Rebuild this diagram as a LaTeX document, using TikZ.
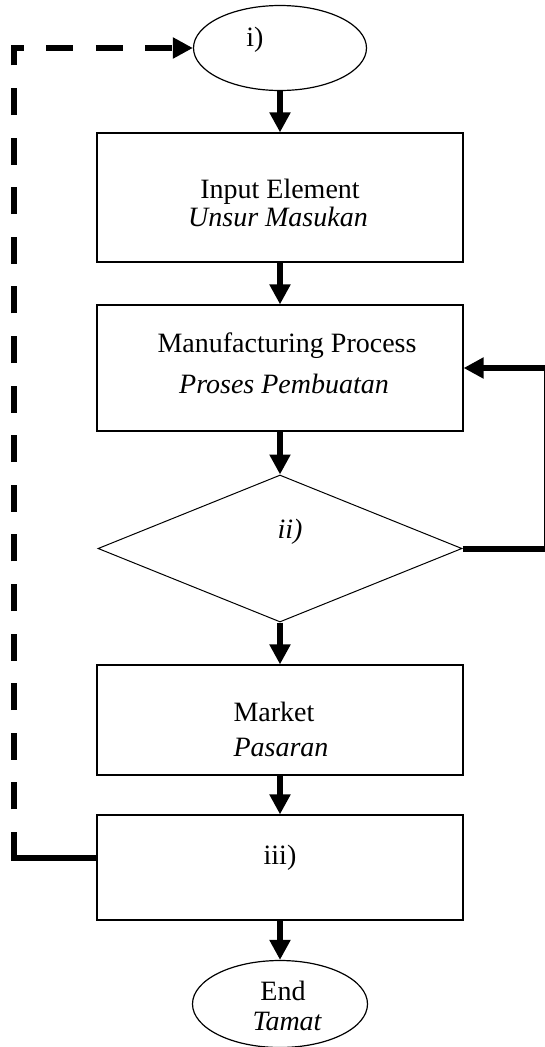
\documentclass[tikz,border=0pt]{standalone}
\usepackage{fontspec}
\setmainfont{Liberation Serif}
\usetikzlibrary{shapes.geometric,arrows.meta}
\begin{document}
\begin{tikzpicture}[x=1pt,y=-1pt,
  box/.style={draw, line width=1.2pt, minimum width=366pt, inner sep=0pt},
  oval/.style={draw, ellipse, line width=1.2pt, inner sep=0pt},
  txt/.style={anchor=base, inner sep=0pt, font=\fontsize{28}{30}\selectfont},
  flow/.style={line width=6pt, -{Triangle[width=20pt,length=20pt]}},
  back/.style={line width=6pt}]
\useasboundingbox (0,0) rectangle (545,1047);
% shapes
\node[oval, minimum width=173pt, minimum height=85pt] (i) at (280,48) {};
\node[box, minimum height=129pt] (b1) at (280,197.5) {};
\node[box, minimum height=126pt] (b2) at (280,368) {};
\node[draw, diamond, line width=1pt, minimum width=364pt, minimum height=147pt, inner sep=0pt] (d) at (280,548.5) {};
\node[box, minimum height=110pt] (b3) at (280,720) {};
\node[box, minimum height=105pt] (b4) at (280,867.5) {};
\node[oval, minimum width=175pt, minimum height=87pt] (e) at (280,1004) {};
% texts
\node[txt] (ti) at (255,46) {i)};
\node[txt] (t1a) at (280,198) {Input Element};
\node[txt] (t1b) at (278,226) {\itshape Unsur Masukan};
\node[txt] (t2a) at (287,352) {Manufacturing Process};
\node[txt] (t2b) at (284,393) {\itshape Proses Pembuatan};
\node[txt] (tii) at (290,538) {\itshape ii)};
\node[txt] (t3a) at (274,721) {Market};
\node[txt] (t3b) at (281,756) {\itshape Pasaran};
\node[txt] (t4) at (280,864) {iii)};
\node[txt] (tea) at (283,1000) {End};
\node[txt] (teb) at (287,1030) {\itshape Tamat};
% main flow
\draw[flow] (i.south) -- (b1.north);
\draw[flow] (b1.south) -- (b2.north);
\draw[flow] (b2.south) -- (d.north);
\draw[flow] (d.south) -- (b3.north);
\draw[flow] (b3.south) -- (b4.north);
\draw[flow] (b4.south) -- (e.north);
% right loop
\coordinate (r1) at (547,548.5);
\coordinate (r2) at (547,368);
\draw[flow] (d.east) -- (r1) -- (r2) -- (b2.east);
% left feedback
\coordinate (l1) at (14,858);
\coordinate (l2) at (14,832);
\draw[back] (b4.west |- l1) -- (l1) -- (l2);
\draw[back, dash pattern=on 27pt off 22.6pt, dash phase=27pt, -{Triangle[width=20pt,length=20pt]}] (l2) -- (l2 |- i.west) -- (i.west);
\end{tikzpicture}
\end{document}
